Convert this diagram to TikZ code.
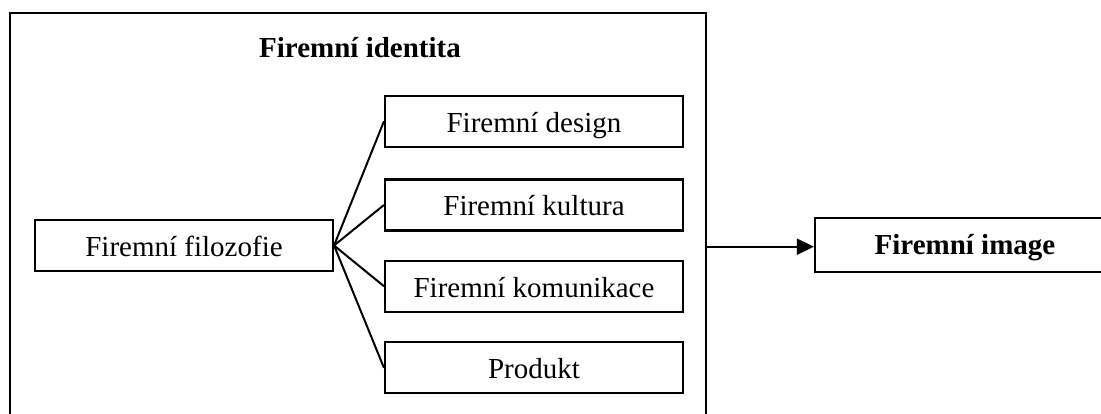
\documentclass[tikz,border=0pt]{standalone}
\usepackage{fontspec}
\setmainfont{Liberation Serif}
\usetikzlibrary{arrows.meta}
\begin{document}
\begin{tikzpicture}[x=1pt,y=-1pt,
  every node/.style={font=\fontsize{29}{34}\selectfont},
  boxnode/.style={draw, line width=2.1pt, rectangle, inner sep=0pt,
    minimum width=298pt, minimum height=51pt, text height=22pt, text depth=0pt},
  conn/.style={line width=2pt},
  titletext/.style={font=\fontsize{29}{34}\selectfont\bfseries, inner sep=0pt}
]
\useasboundingbox (0,0) rectangle (1101,414);
% outer frame (bottom cut by the page edge)
\draw[line width=2.1pt] (10,420) -- (10,13) -- (706,13) -- (706,420);
\coordinate (ob) at (706,246.7);
\node[titletext, anchor=base] (title) at (360,58) {Firemní identita};
\node[boxnode] (filo) at (184,245.5) {Firemní filozofie};
\node[boxnode] (design) at (534,121.3) {Firemní design};
\node[boxnode] (kult) at (534,205) {Firemní kultura};
\node[boxnode] (komu) at (534,286.2) {Firemní komunikace};
\node[boxnode] (prod) at (534,367.8) {Produkt};
\node[boxnode, minimum width=300pt, minimum height=54pt, font=\fontsize{29}{34}\selectfont\bfseries, text height=20pt] (img) at (965,244.7) {Firemní image};
\foreach \t in {design,kult,komu,prod}
  \draw[conn] (filo.east) -- (\t.west);
\draw[conn, -{Triangle[length=17pt,width=16pt]}] (ob) -- (ob -| img.west);
\end{tikzpicture}
\end{document}
